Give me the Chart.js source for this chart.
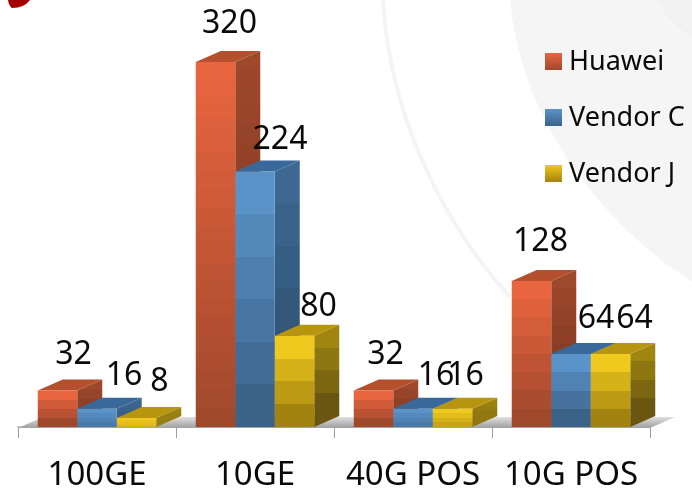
<!DOCTYPE html>
<html><head><meta charset="utf-8">
<style>html,body{margin:0;padding:0;background:#fff}canvas{display:block}</style>
<script src="https://cdn.jsdelivr.net/npm/chart.js@4"></script></head>
<body><div style="width:692px;height:489px"><canvas id="c" width="692" height="489"></canvas></div>
<script>
const categories = ['100GE','10GE','40G POS','10G POS'];
const huawei = [32,320,32,128];
const vendorC = [16,224,16,64];
const vendorJ = [8,80,16,64];

const palette = [
 {top:[233,101,63],bot:[160,72,44],side:[[158,72,44],[120,54,32]],cap:'#b5502f',band:18},
 {top:[90,147,200],bot:[60,98,136],side:[[60,104,146],[46,78,110]],cap:'#39699a',band:40},
 {top:[240,201,30],bot:[163,131,15],side:[[160,134,16],[106,86,16]],cap:'#b8950f',band:40}
];
const DX=25, DY=-11;
const rgb=(a,b,t)=>`rgb(${a.map((v,i)=>Math.round(v+(b[i]-v)*t)).join(',')})`;
function bandGrad(ctx,yTop,yBot,c0,c1,reach,band){
  const g=ctx.createLinearGradient(0,yTop,0,yBot);
  const h=Math.max(1,yBot-yTop), n=Math.max(4,Math.round(h/band));
  for(let i=0;i<n;i++){
    const col=rgb(c0,c1,(i/(n-1))*reach);
    g.addColorStop(i/n,col); g.addColorStop((i+1)/n,col);
  }
  return g;
}
function fill(context){
  const ch=context.chart;
  if(!ch.chartArea) return 'transparent';
  const p=palette[context.datasetIndex];
  const y=ch.scales.y.getPixelForValue(context.raw), b=ch.scales.y.getPixelForValue(0);
  return bandGrad(ch.ctx,y,b,p.top,p.bot,Math.min(1,(b-y)/35),p.band);
}
const nudgeX=[[16,14,12,9],[27,25,23,25],[23,24,13,24]];
const rise=[[38,40,38,41],[35,34,35,37],[38,31,35,37]];

const backdrop={id:'backdrop',beforeDraw(ch){
  const c=ch.ctx;c.save();
  c.fillStyle='#fff';c.fillRect(0,0,692,489);
  c.fillStyle='#f5f5f6';
  c.beginPath();c.moveTo(510,0);c.bezierCurveTo(520,110,590,215,692,282);c.lineTo(692,0);c.closePath();c.fill();
  c.fillStyle='#f1f1f2';
  c.beginPath();c.moveTo(657,0);c.quadraticCurveTo(668,22,692,37);c.lineTo(692,0);c.closePath();c.fill();
  c.strokeStyle='#f4f4f4';c.lineWidth=4;
  c.beginPath();c.moveTo(383,0);c.bezierCurveTo(390,120,445,225,510,297);c.stroke();
  c.fillStyle='#a50000';
  c.beginPath();c.moveTo(8,0);c.lineTo(30,0);c.quadraticCurveTo(24,8,12,8);c.quadraticCurveTo(9,6,8,0);c.closePath();c.fill();
  c.restore();
}};
const solid={id:'solid',beforeDatasetsDraw(ch){
  const c=ch.ctx,a=ch.chartArea;c.save();
  const fl=c.createLinearGradient(0,a.bottom+DY,0,a.bottom);
  fl.addColorStop(0,'#e6e6e6');fl.addColorStop(1,'#a4a4a4');
  c.fillStyle=fl;c.beginPath();
  c.moveTo(a.left,a.bottom+1);c.lineTo(a.left+DX,a.bottom+1+DY);c.lineTo(a.right+DX,a.bottom+1+DY);c.lineTo(a.right,a.bottom+1);c.closePath();c.fill();
  categories.forEach((_,i)=>{
    ch.data.datasets.forEach((d,k)=>{
      const e=ch.getDatasetMeta(k).data[i],p=palette[k];
      const l=e.x-e.width/2,r=e.x+e.width/2;
      const g=bandGrad(c,e.y+DY,e.base+DY,p.side[0],p.side[1],Math.min(1,(e.base-e.y)/60),p.band);
      c.fillStyle=g;c.beginPath();
      c.moveTo(r,e.y);c.lineTo(r+DX,e.y+DY);c.lineTo(r+DX,e.base+DY);c.lineTo(r,e.base);c.closePath();c.fill();
      c.fillStyle=p.cap;c.beginPath();
      c.moveTo(l,e.y);c.lineTo(l+DX,e.y+DY);c.lineTo(r+DX,e.y+DY);c.lineTo(r,e.y);c.closePath();c.fill();
    });
  });
  c.restore();
}};
const valueText={id:'valueText',afterDatasetsDraw(ch){
  const c=ch.ctx;c.save();
  c.font='32px "Noto Sans"';c.fillStyle='#0a0a0a';c.textAlign='center';c.textBaseline='middle';
  ch.data.datasets.forEach((d,k)=>{
    ch.getDatasetMeta(k).data.forEach((e,i)=>{
      c.fillText(String(d.data[i]),e.x+nudgeX[k][i],e.y-rise[k][i]+2);
    });
  });
  c.restore();
}};
const sideLegend={id:'sideLegend',afterDraw(ch){
  const c=ch.ctx;c.save();
  c.textBaseline='middle';c.textAlign='left';c.font='27px "Noto Sans"';
  ch.data.datasets.forEach((d,k)=>{
    const y=61+56*k,p=palette[k];
    const g=c.createLinearGradient(0,y-8,0,y+9);
    g.addColorStop(0,rgb(p.top,p.top,0));g.addColorStop(1,rgb(p.bot,p.bot,0));
    c.fillStyle=g;c.fillRect(545,y-8,17,17);
    c.fillStyle='#0a0a0a';c.fillText(d.label,569,y+1);
  });
  c.restore();
}};
new Chart(document.getElementById('c'),{
  type:'bar',
  data:{labels:categories,datasets:[
    {label:'Huawei',data:huawei,backgroundColor:fill},
    {label:'Vendor C',data:vendorC,backgroundColor:fill},
    {label:'Vendor J',data:vendorJ,backgroundColor:fill}
  ]},
  options:{
    responsive:false,animation:false,
    layout:{padding:{left:18,right:42,top:62,bottom:0}},
    datasets:{bar:{categoryPercentage:0.75,barPercentage:1,borderWidth:0}},
    plugins:{legend:{display:false},tooltip:{enabled:false},title:{display:false}},
    scales:{
      x:{afterFit(s){s.height=62;},
         grid:{display:true,drawOnChartArea:false,color:'#9c9c9c',tickLength:11,offset:true},
         border:{color:'#c8c8c8',width:2},
         ticks:{color:'#0a0a0a',padding:21,maxRotation:0,autoSkip:false,font:{family:'"Noto Sans"',size:33,lineHeight:1}}},
      y:{display:false,min:0,max:320}
    }
  },
  plugins:[backdrop,solid,valueText,sideLegend]
});
</script></body></html>
